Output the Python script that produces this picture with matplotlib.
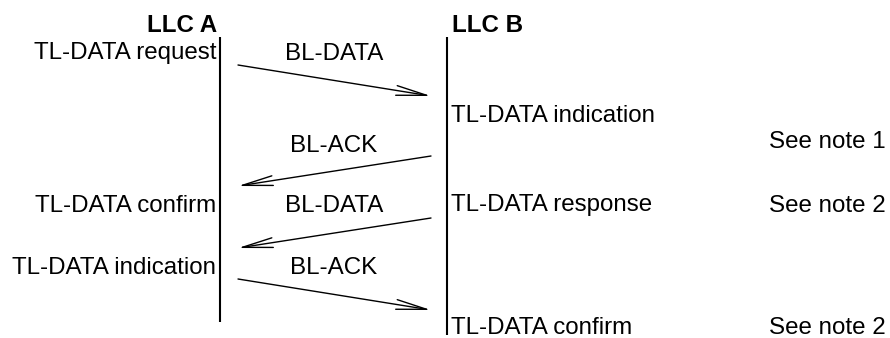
import matplotlib.pyplot as plt

plt.rcParams['font.family'] = ['Liberation Sans', 'DejaVu Sans']

# entities (header, x position of lifeline)
entities = ['LLC A', 'LLC B']
lifeline_x = [220, 447]
lifeline_end = [322, 335]

# messages: label, from, to, start y, end y
msg_labels = ['BL-DATA', 'BL-ACK', 'BL-DATA', 'BL-ACK']
msg_from = [0, 1, 1, 0]
msg_to = [1, 0, 0, 1]
msg_y0 = [65, 156, 218, 279]
msg_y1 = [96, 186, 248, 310]
msg_label_y = [51, 143, 203, 265]

# primitives at LLC A (right aligned) and LLC B (left aligned)
a_texts = ['TL-DATA request', 'TL-DATA confirm', 'TL-DATA indication']
a_y = [51, 203, 265]
b_texts = ['TL-DATA indication', 'TL-DATA response', 'TL-DATA confirm']
b_y = [114, 203, 325]
notes = ['See note 1', 'See note 2', 'See note 2']
note_y = [140, 203, 325]

fig = plt.figure(figsize=(8.9, 3.38), dpi=100)
ax = fig.add_axes([0, 0, 1, 1])
ax.set_xlim(0, 890)
ax.set_ylim(338, 0)
ax.axis('off')

fs = 17.4

# lifelines and headers
ax.vlines(lifeline_x, 37, lifeline_end, color='black', linewidth=1.5)
ax.text(lifeline_x[0] - 3, 23, entities[0], ha='right', va='center_baseline',
        fontsize=fs, fontweight='bold')
ax.text(lifeline_x[1] + 5, 23, entities[1], ha='left', va='center_baseline',
        fontsize=fs, fontweight='bold')

# messages
for lab, f, t, y0, y1, ly in zip(msg_labels, msg_from, msg_to, msg_y0, msg_y1, msg_label_y):
    xa = lifeline_x[f] + (18 if f == 0 else -16)
    xb = lifeline_x[t] + (18 if t == 0 else -16)
    ax.annotate('', xy=(xb, y1), xytext=(xa, y0),
                arrowprops=dict(arrowstyle='->,head_length=2.2,head_width=0.35',
                                color='black', lw=1.0, shrinkA=0, shrinkB=0,
                                mutation_scale=10))
    ax.text(334, ly, lab, ha='center', va='center_baseline', fontsize=fs)

for s, y in zip(a_texts, a_y):
    ax.text(lifeline_x[0] - 4, y, s, ha='right', va='center_baseline', fontsize=fs)
for s, y in zip(b_texts, b_y):
    ax.text(lifeline_x[1] + 4, y, s, ha='left', va='center_baseline', fontsize=fs)
for s, y in zip(notes, note_y):
    ax.text(769, y, s, ha='left', va='center_baseline', fontsize=fs)

fig.savefig('out.png', dpi=100)
